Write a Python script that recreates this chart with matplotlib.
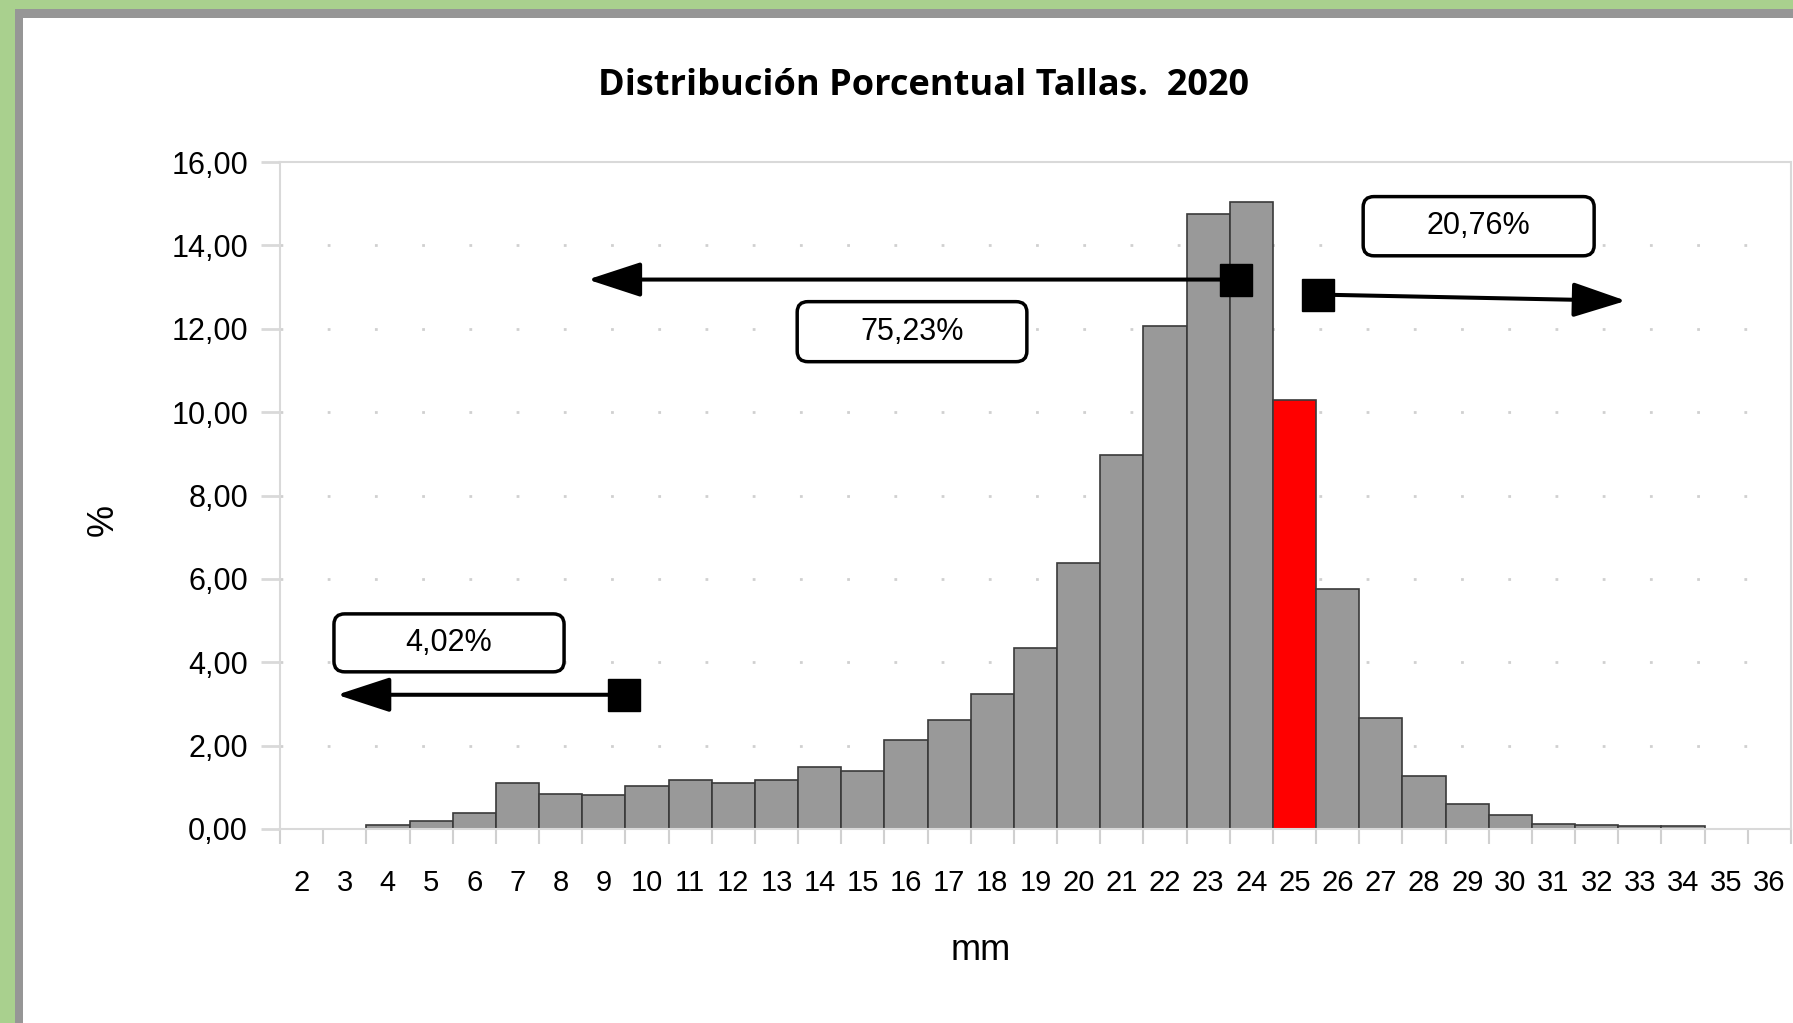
import numpy as np
import matplotlib.pyplot as plt
from matplotlib.patches import FancyBboxPatch, Rectangle

# tallas (mm) y porcentaje de individuos por talla
tallas = list(range(2, 37))
porcentaje = [0, 0, 0.09, 0.20, 0.39, 1.11, 0.84, 0.81, 1.04, 1.18, 1.10, 1.18,
              1.48, 1.40, 2.14, 2.62, 3.25, 4.34, 6.39, 8.97, 12.07, 14.76, 15.04,
              10.29, 5.76, 2.66, 1.26, 0.61, 0.33, 0.13, 0.10, 0.07, 0.07, 0, 0]
talla_limite = 25
etiquetas = ['4,02%', '75,23%', '20,76%']
titulo = 'Distribución Porcentual Tallas.  2020'

W, H = 1793, 1023
fig = plt.figure(figsize=(W / 100, H / 100), dpi=100)
fig.patch.set_facecolor('white')

# marco verde / gris de la hoja
verde = '#a9d08e'
gris = '#969696'
fig.add_artist(Rectangle((0, 0), 15 / W, 1, transform=fig.transFigure, color=verde, lw=0))
fig.add_artist(Rectangle((0, 1 - 9 / H), 1, 9 / H, transform=fig.transFigure, color=verde, lw=0))
fig.add_artist(Rectangle((15 / W, 0), 8 / W, 1 - 9 / H, transform=fig.transFigure, color=gris, lw=0))
fig.add_artist(Rectangle((15 / W, 1 - 18 / H), 1, 9 / H, transform=fig.transFigure, color=gris, lw=0))

ax = fig.add_axes([280 / W, 1 - 829 / H, (1791 - 280) / W, (829 - 162) / H])

colores = ['#ff0000' if t == talla_limite else '#999999' for t in tallas]
bordes = ['#3a3a3a' if v > 0 else 'none' for v in porcentaje]
ax.bar(tallas, porcentaje, width=1, color=colores, edgecolor=bordes, linewidth=1.2, zorder=2)

ax.set_xlim(1.5, 36.5)
ax.set_ylim(0, 16)

yt = np.arange(0, 17, 2)
ax.set_yticks(yt)
ax.set_yticklabels([('%.2f' % v).replace('.', ',') for v in yt], family='Liberation Sans')
ax.set_xticks(np.arange(1.5, 37, 1))
ax.set_xticklabels([])
ax.set_xticks(tallas, minor=True)
ax.set_xticklabels([str(t) for t in tallas], minor=True, family='Liberation Sans')

ax.tick_params(axis='x', which='major', length=11, width=1.5, color='#d0d0d0')
ax.tick_params(axis='x', which='minor', length=0, pad=29, labelsize=21)
ax.tick_params(axis='y', length=14, width=2, color='#d9d9d9', pad=9, labelsize=22)

for v in yt[1:-1]:
    ax.axhline(v, color='#d0d0d0', lw=2, ls=(0, (1, 16)), zorder=0)

for s in ax.spines.values():
    s.set_color('#d9d9d9')
    s.set_linewidth(1.5)


def caja(x0, y0, x1, y1, texto):
    ax.add_patch(FancyBboxPatch((x0, y0), x1 - x0, y1 - y0,
                                boxstyle='round,pad=0,rounding_size=0.25',
                                fc='white', ec='black', lw=2.5, zorder=5))
    ax.text((x0 + x1) / 2, (y0 + y1) / 2, texto, ha='center', va='center',
            fontsize=22, family='Liberation Sans', zorder=6)


def flecha(xs, ys, xt, yt_):
    ax.annotate('', xy=(xt, yt_), xytext=(xs, ys),
                arrowprops=dict(arrowstyle='-|>,head_length=1.1,head_width=0.36',
                                lw=2.9, color='black', mutation_scale=30,
                                shrinkA=0, shrinkB=0), zorder=6)
    ax.plot(xs, ys, marker='s', ms=23, color='black', zorder=7)


caja(2.75, 3.77, 8.08, 5.16, etiquetas[0])
flecha(9.47, 3.22, 2.82, 3.22)
caja(13.48, 11.21, 18.80, 12.65, etiquetas[1])
flecha(23.64, 13.18, 8.63, 13.18)
caja(26.59, 13.75, 31.94, 15.17, etiquetas[2])
flecha(25.54, 12.82, 32.68, 12.67)

fig.text(924 / W, 1 - 86 / H, titulo, ha='center', va='center', fontsize=26,
         fontweight='bold', family='Open Sans')
fig.text(103 / W, 1 - 520 / H, '%', rotation=90, ha='center', va='center',
         fontsize=26, family='Liberation Sans')
fig.text(981 / W, 1 - 951 / H, 'mm', ha='center', va='center', fontsize=26,
         family='Liberation Sans')

fig.savefig('out.png', dpi=100)
